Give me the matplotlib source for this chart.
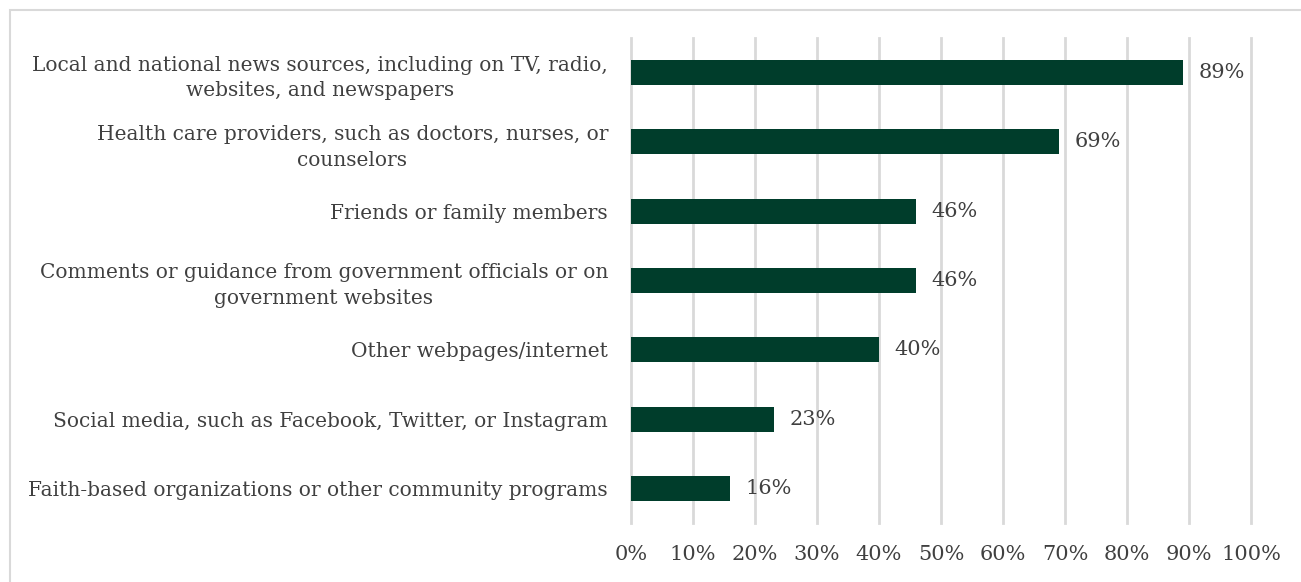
import matplotlib
matplotlib.use("Agg")
import matplotlib.pyplot as plt
from matplotlib.patches import Rectangle

categories = [
    "Local and national news sources, including on TV, radio,\nwebsites, and newspapers",
    "Health care providers, such as doctors, nurses, or\ncounselors",
    "Friends or family members",
    "Comments or guidance from government officials or on\ngovernment websites",
    "Other webpages/internet",
    "Social media, such as Facebook, Twitter, or Instagram",
    "Faith-based organizations or other community programs",
]
values = [89, 69, 46, 46, 40, 23, 16]
ticks = [0, 10, 20, 30, 40, 50, 60, 70, 80, 90, 100]

bar_color = "#003d2b"
text_color = "#404040"
grid_color = "#d9d9d9"

W, H = 1301, 582
fig = plt.figure(figsize=(W / 100, H / 100), dpi=100)
plt.rcParams["font.family"] = ["DejaVu Serif"]

# plot area in pixels
left, right, top, bottom = 631, 1251, 38, 523
ax = fig.add_axes([left / W, 1 - bottom / H, (right - left) / W, (bottom - top) / H])

y = list(range(len(categories)))
ax.barh(y, values, height=0.36, color=bar_color, zorder=3)
ax.set_ylim(len(categories) - 0.5, -0.5)
ax.set_xlim(0, 100)

for yi, v in zip(y, values):
    ax.text(v + 2.5, yi, f"{v}%", va="center", ha="left",
            fontsize=15, color=text_color)

ax.set_xticks(ticks)
ax.set_xticklabels([f"{t}%" for t in ticks], fontsize=15, color=text_color)
ax.set_yticks(y)
ax.set_yticklabels(categories, fontsize=14.5, color=text_color,
                   ha="right", multialignment="center", linespacing=1.45)
ax.tick_params(axis="both", length=0)
ax.tick_params(axis="x", pad=16)
ax.tick_params(axis="y", pad=16.5)

ax.grid(axis="x", color=grid_color, linewidth=2, zorder=0)
for gl in ax.get_xgridlines():
    gl.set_clip_on(False)
for s in ax.spines.values():
    s.set_visible(False)

fig.patches.append(Rectangle((9.5 / W, -0.1), 1.2, 1 - 9.5 / H + 0.1,
                             transform=fig.transFigure, fill=False,
                             edgecolor="#d9d9d9", linewidth=1.5))

fig.savefig("out.png", dpi=100)
